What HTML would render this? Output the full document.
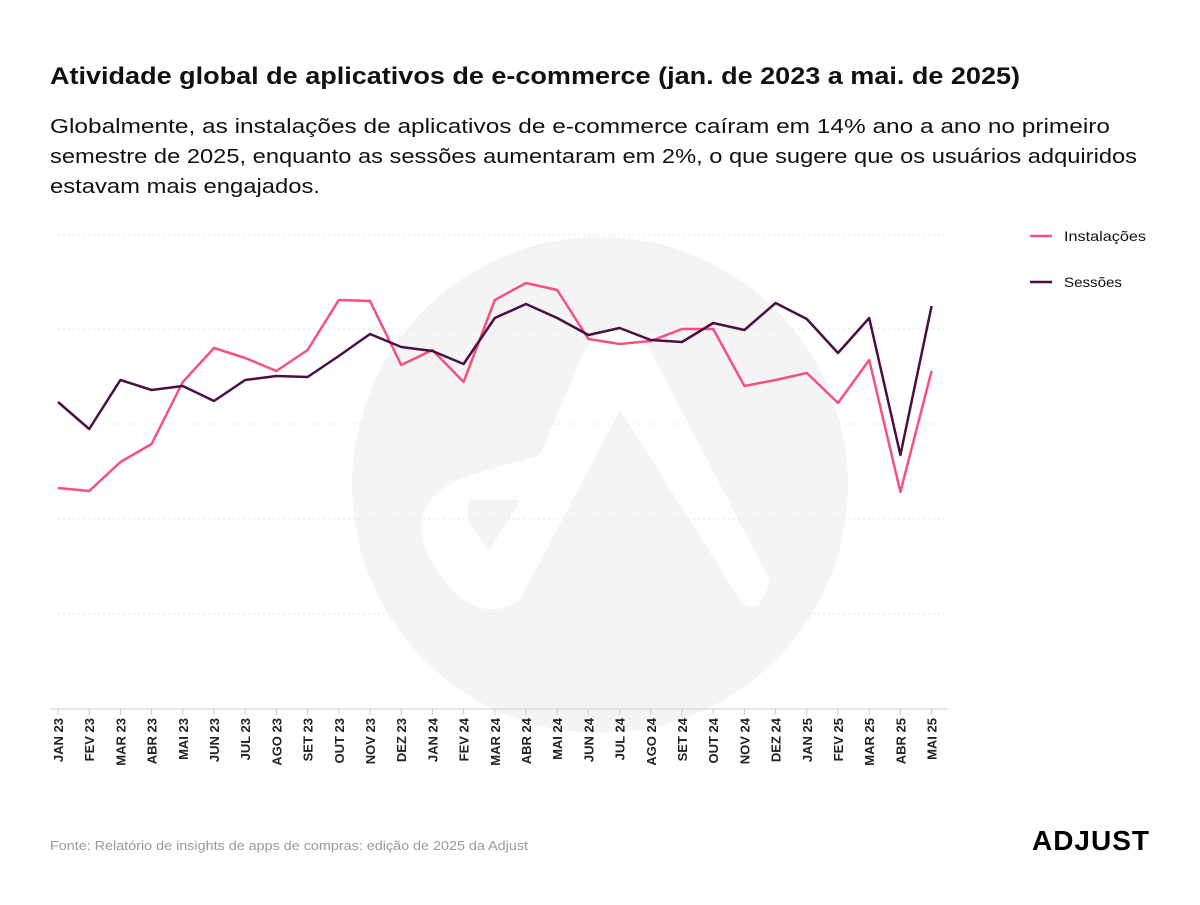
<!DOCTYPE html>
<html><head><meta charset="utf-8"><style>
body{margin:0;background:#fff;width:1200px;height:900px;overflow:hidden;font-family:"Liberation Sans",sans-serif;}
</style></head><body>
<svg width="1200" height="900" xmlns="http://www.w3.org/2000/svg" font-family="Liberation Sans, sans-serif">
<text x="50" y="84" font-size="24" font-weight="bold" fill="#111" textLength="970" lengthAdjust="spacingAndGlyphs">Atividade global de aplicativos de e-commerce (jan. de 2023 a mai. de 2025)</text>
<text font-size="20" fill="#111"><tspan x="50" y="133" textLength="1060" lengthAdjust="spacingAndGlyphs">Globalmente, as instalações de aplicativos de e-commerce caíram em 14% ano a ano no primeiro</tspan></text>
<text font-size="20" fill="#111" x="50" y="163" textLength="1087" lengthAdjust="spacingAndGlyphs">semestre de 2025, enquanto as sessões aumentaram em 2%, o que sugere que os usuários adquiridos</text>
<text font-size="20" fill="#111" x="50" y="193" textLength="270" lengthAdjust="spacingAndGlyphs">estavam mais engajados.</text>
<circle cx="600" cy="485" r="248" fill="#f4f4f4"/>
<path d="M540 455 L470 475 Q400 500 430 560 Q470 630 520 600 L620 410 L740 600 Q760 620 770 580 L650 350 Q610 300 580 360 Z M520 500 L490 550 Q460 520 470 500 Z" fill="#fff" opacity="0.9"/>
<g stroke="#e6e6e6" stroke-dasharray="2,3" stroke-width="1">
<line x1="58" x2="948" y1="235" y2="235"/><line x1="58" x2="948" y1="329" y2="329"/><line x1="58" x2="948" y1="424" y2="424"/><line x1="58" x2="948" y1="519" y2="519"/><line x1="58" x2="948" y1="614" y2="614"/>
</g>
<line x1="50" x2="948" y1="709" y2="709" stroke="#ddd" stroke-width="1.5"/>
<g id="ticks" stroke="#ccc"></g>
<polyline fill="none" stroke="#f5517e" stroke-width="2.5" stroke-linejoin="round" points="58,488 89.2,491 120.4,462 151.6,444 182.8,382 214,348 245.2,358 276.4,371 307.6,350 338.8,300 370,301 401.2,365 432.4,350 463.6,382 494.8,300 526,283 557.2,290 588.4,339 619.6,344 650.8,341 682,329 713.2,329 744.4,386 775.6,380 806.8,373 838,403 869.2,360 900.4,492 931.6,371"/>
<polyline fill="none" stroke="#4a0f45" stroke-width="2.5" stroke-linejoin="round" points="58,402 89.2,429 120.4,380 151.6,390 182.8,386 214,401 245.2,380 276.4,376 307.6,377 338.8,356 370,334 401.2,347 432.4,351 463.6,364 494.8,318 526,304 557.2,318 588.4,335 619.6,328 650.8,340 682,342 713.2,323 744.4,330 775.6,303 806.8,319 838,353 869.2,318 900.4,455 931.6,306"/>
<g font-size="13" font-weight="bold" fill="#222" id="lbl"></g>
<line x1="1030" x2="1052" y1="236" y2="236" stroke="#f5517e" stroke-width="2.5"/>
<text x="1064" y="241" font-size="14" fill="#111" textLength="82" lengthAdjust="spacingAndGlyphs">Instalações</text>
<line x1="1030" x2="1052" y1="282" y2="282" stroke="#4a0f45" stroke-width="2.5"/>
<text x="1064" y="287" font-size="14" fill="#111" textLength="58" lengthAdjust="spacingAndGlyphs">Sessões</text>
<text x="50" y="850" font-size="13" fill="#999" textLength="478" lengthAdjust="spacingAndGlyphs">Fonte: Relatório de insights de apps de compras: edição de 2025 da Adjust</text>
<text x="1150" y="850" text-anchor="end" font-size="28" font-weight="bold" fill="#000" letter-spacing="1">ADJUST</text>
</svg>
<script>
var L=["JAN 23","FEV 23","MAR 23","ABR 23","MAI 23","JUN 23","JUL 23","AGO 23","SET 23","OUT 23","NOV 23","DEZ 23","JAN 24","FEV 24","MAR 24","ABR 24","MAI 24","JUN 24","JUL 24","AGO 24","SET 24","OUT 24","NOV 24","DEZ 24","JAN 25","FEV 25","MAR 25","ABR 25","MAI 25"];
var g=document.getElementById("lbl"),t=document.getElementById("ticks"),ns="http://www.w3.org/2000/svg";
L.forEach(function(s,i){var x=58+i*31.2;
var l=document.createElementNS(ns,"line");l.setAttribute("x1",x);l.setAttribute("x2",x);l.setAttribute("y1",709);l.setAttribute("y2",715);t.appendChild(l);
var e=document.createElementNS(ns,"text");e.setAttribute("transform","translate("+(x+5)+",718) rotate(-90)");e.setAttribute("text-anchor","end");e.textContent=s;g.appendChild(e);});
</script>
</body></html>
